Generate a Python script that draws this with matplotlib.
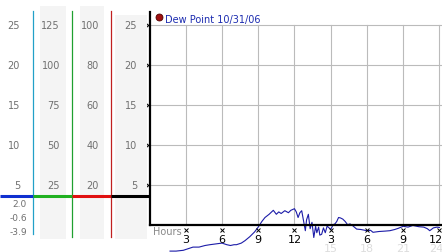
import matplotlib
matplotlib.use('Agg')
import matplotlib.pyplot as plt

# dew point trace (hours since start, value)
hours = [1.7, 2.2, 2.8, 3.2, 3.6, 4.1, 4.6, 5.0, 5.5, 6.0, 6.4, 6.7, 7.0, 7.2, 7.6, 7.9,
         8.3, 8.7, 9.0, 9.3, 9.56, 9.9, 10.25, 10.4, 10.5, 10.7, 10.9, 11.2, 11.5, 11.7,
         12.0, 12.15, 12.3, 12.45, 12.6, 12.75, 12.9, 13.0, 13.15, 13.3, 13.45, 13.6,
         13.75, 13.85, 14.0, 14.1, 14.25, 14.4, 14.55, 14.7, 14.8, 15.0, 15.2, 15.35,
         15.5, 15.65, 15.8, 16.0, 16.2, 16.4, 16.6, 16.8, 17.15, 17.5, 18.0, 18.3, 18.5,
         19.0, 19.5, 19.9, 20.3, 20.6, 21.0, 21.4, 21.8, 22.3, 22.7, 23.0, 23.2, 23.5,
         23.8, 24.0]
dew = [-3.3, -3.3, -3.2, -3.0, -2.8, -2.8, -2.6, -2.5, -2.4, -2.3, -2.5, -2.6, -2.5, -2.5,
       -2.3, -2.0, -1.5, -0.9, -0.3, 0.4, 0.9, 1.3, 1.8, 1.5, 1.3, 1.6, 1.4, 1.75, 1.5, 1.8,
       2.0, 1.6, 0.9, 1.5, 1.75, 0.5, -0.75, 0.6, 1.3, -0.5, 0.3, -1.6, -0.2, -1.0, -0.3,
       -1.3, -1.2, -0.4, -1.0, -0.2, -0.3, -0.6, 0.0, 0.1, 0.4, 0.9, 0.85, 0.7, 0.4, 0.0,
       0.1, -0.1, -0.55, -0.6, -0.75, -0.7, -0.95, -0.85, -0.8, -0.75, -0.6, -0.45, -0.2,
       -0.3, -0.1, -0.25, -0.3, -0.5, -0.75, -0.4, -0.3, -0.35]

yticks = [5, 10, 15, 20, 25]
col1 = ['5', '10', '15', '20', '25']
col2 = ['25', '50', '75', '100', '125']
col3 = ['20', '40', '60', '80', '100']
col4 = ['5', '10', '15', '20', '25']
stats = ['2.0', '-0.6', '-3.9']
xticks = [3, 6, 9, 12, 15, 18, 21, 24]
xlabels = ['3', '6', '9', '12', '3', '6', '9', '12']
xlabels2 = ['15', '18', '21', '24']
title = 'Dew Point 10/31/06'

W, H = 442, 253
y0px, pxu = 225.7, 8.0      # pixel row of 0, pixels per unit
x0px, pxh = 149.5, 12.08    # pixel col of hour 0, pixels per hour
ybot = (y0px - H) / pxu
ytop = y0px / pxu

def yv(py):
    return (y0px - py) / pxu

fig = plt.figure(figsize=(W / 100, H / 100), dpi=100)
ax = fig.add_axes([x0px / W, 0, (W - x0px) / W, 1])
ax.set_xlim(0, (W - x0px) / pxh)
ax.set_ylim(ybot, ytop)
ax.axis('off')

grid = '#bbbbbb'
for t in yticks:
    ax.plot([0, 24.3], [t, t], color=grid, lw=0.8, zorder=1)
for t in xticks:
    ax.plot([t, t], [0, 25], color=grid, lw=0.8, zorder=1)

ax.plot(hours, dew, color='#1c1ca8', lw=0.8, zorder=3)

ax.plot([0, 0], [0, yv(13)], color='black', lw=1.6, clip_on=False, zorder=4)
ax.plot([0, 24.3], [0, 0], color='black', lw=1.6, clip_on=False, zorder=4)

# small x tick marks
ax.plot([-0.15] * len(yticks), yticks, ls='none', marker='x', ms=2.5, mew=0.7,
        color='black', clip_on=False, zorder=5)
ax.plot(xticks, [yv(231)] * len(xticks), ls='none', marker='x', ms=2.5, mew=0.7,
        color='black', clip_on=False, zorder=5)

# last label sits left of its tick so it stays inside the image
lab_x = [t if t < 24 else t - 0.3 for t in xticks]
for t, s in zip(lab_x, xlabels):
    ax.text(t, yv(240), s, ha='center', va='center', fontsize=8, color='black')
for t, s in zip(lab_x[4:], xlabels2):
    ax.text(t, yv(249), s, ha='center', va='center', fontsize=8, color='#dddddd')
ax.text(0.3, yv(232), 'Hours', ha='left', va='center', fontsize=7, color='#888888')

ax.plot([0.8], [yv(18)], ls='none', marker='o', ms=5, mfc='#a01010',
        mec='#500000', mew=0.6, clip_on=False)
ax.text(1.25, yv(19.5), title, ha='left', va='center', fontsize=7, color='#1c2cb0')

# left scale panel
lx = fig.add_axes([0, 0, x0px / W, 1])
lx.set_xlim(0, x0px)
lx.set_ylim(ybot, ytop)
lx.axis('off')

band = '#f4f4f4'
lx.fill_between([40, 66], yv(240), yv(6.7), color=band, lw=0)
lx.fill_between([80, 104], yv(240), yv(6.7), color=band, lw=0)
lx.fill_between([115, 147], yv(240), yv(15.7), color=band, lw=0)

lx.plot([33, 33], [yv(235), yv(12.3)], color='#22a0c8', lw=0.9)
lx.plot([72, 72], [yv(238), yv(12.3)], color='#20a030', lw=0.9)
lx.plot([111, 111], [yv(238), yv(12.3)], color='#c02020', lw=0.9)

ym = yv(196.7)
lx.plot([0, 33], [ym, ym], color='#1030d0', lw=2.2, solid_capstyle='butt')
lx.plot([33, 72], [ym, ym], color='#20b020', lw=2.2, solid_capstyle='butt')
lx.plot([72, 111], [ym, ym], color='#e01010', lw=2.2, solid_capstyle='butt')
lx.plot([111, 149.5], [ym, ym], color='black', lw=2.2, solid_capstyle='butt')

lab = '#707070'
for t, a, b, c, d in zip(yticks, col1, col2, col3, col4):
    lx.text(20, t, a, ha='right', va='center', fontsize=7, color=lab)
    lx.text(60, t, b, ha='right', va='center', fontsize=7, color=lab)
    lx.text(99, t, c, ha='right', va='center', fontsize=7, color=lab)
    lx.text(137, t, d, ha='right', va='center', fontsize=7, color=lab)

for py, s in zip([204.3, 218.3, 232.3], stats):
    lx.text(27, yv(py), s, ha='right', va='center', fontsize=6.5, color=lab)

fig.savefig('out.png', dpi=100)
